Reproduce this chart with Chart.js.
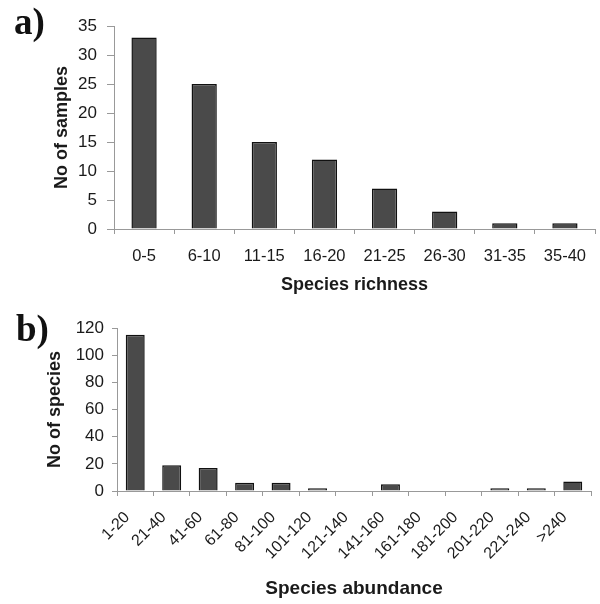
<!DOCTYPE html>
<html>
<head>
<meta charset="utf-8">
<script src="https://cdn.jsdelivr.net/npm/chart.js@4"></script>
<style>
  body { margin: 0; background: #fff; }
  #wrap { position: relative; width: 600px; height: 604px; }
  .panel { position: absolute; left: 0; width: 600px; }
  .tag { position: absolute; font-family: "Liberation Serif", serif; font-weight: bold; font-size: 37px; line-height: 1; color: #111; }
</style>
</head>
<body>
<div id="wrap">
  <div class="panel" style="top:0;height:300px"><canvas id="chartA" width="600" height="300"></canvas></div>
  <div class="panel" style="top:300px;height:304px"><canvas id="chartB" width="600" height="304"></canvas></div>
  <div class="tag" style="left:14px;top:3px">a)</div>
  <div class="tag" style="left:16px;top:310px">b)</div>
</div>
<script>
let richnessLabels = ['0-5', '6-10', '11-15', '16-20', '21-25', '26-30', '31-35', '35-40'];
let richnessCounts = [33, 25, 15, 12, 7, 3, 1, 1];

let abundanceLabels = ['1-20', '21-40', '41-60', '61-80', '81-100', '101-120', '121-140', '141-160',
  '161-180', '181-200', '201-220', '221-240', '>240'];
let abundanceCounts = [115, 19, 17, 6, 6, 2, 0, 5, 0, 0, 2, 2, 7];

Chart.defaults.font.family = '"Liberation Sans", Arial, sans-serif';
Chart.defaults.color = '#1a1a1a';
Chart.defaults.animation = false;

let makeChart = (id, labels, data, opts) => {
  let ctx = document.querySelector(id).getContext('2d');
  return new Chart(ctx, {
    type: 'bar',
    data: {
      labels: labels,
      datasets: [{
        data: data,
        backgroundColor: '#4a4a4a',
        borderColor: '#111',
        borderWidth: 1.5,
        barPercentage: opts.barPct,
        categoryPercentage: 1
      }]
    },
    options: {
      responsive: false,
      layout: { padding: opts.padding },
      plugins: { legend: { display: false }, tooltip: { enabled: false } },
      scales: {
        x: {
          grid: { drawOnChartArea: false, tickLength: 5, color: '#999', offset: true },
          border: { color: '#999' },
          ticks: { font: { size: opts.xFont }, padding: opts.xPad, labelOffset: opts.xShift,
            maxRotation: opts.rot, minRotation: opts.rot, autoSkip: false },
          title: { display: true, text: opts.xTitle, font: { size: opts.xTitleSize, weight: 'bold' } },
          afterFit: (s) => { s.height = opts.xHeight; }
        },
        y: {
          min: 0, max: opts.yMax,
          grid: { drawOnChartArea: false, tickLength: opts.yTick, color: '#999' },
          border: { color: '#999' },
          ticks: { stepSize: opts.step, font: { size: 17 }, padding: opts.yPad },
          title: { display: true, text: opts.yTitle, font: { size: 18, weight: 'bold' } },
          afterFit: (s) => { s.width = opts.yWidth; }
        }
      }
    }
  });
};

makeChart('#chartA', richnessLabels, richnessCounts, {
  barPct: 0.42, padding: { left: 47, top: 26, right: 5, bottom: 0 },
  xFont: 16.5, xPad: 13, xShift: 0, rot: 0, xTitle: 'Species richness', xTitleSize: 18, xHeight: 71,
  yMax: 35, step: 5, yTitle: 'No of samples', yWidth: 67, yTick: 7, yPad: 10
});

makeChart('#chartB', abundanceLabels, abundanceCounts, {
  barPct: 0.52, padding: { left: 40, top: 28, right: 9, bottom: 0 },
  xFont: 16, xPad: 12, xShift: -8, rot: 45, xTitle: 'Species abundance', xTitleSize: 19, xHeight: 113,
  yMax: 120, step: 20, yTitle: 'No of species', yWidth: 77, yTick: 5, yPad: 8
});
</script>
</body>
</html>
